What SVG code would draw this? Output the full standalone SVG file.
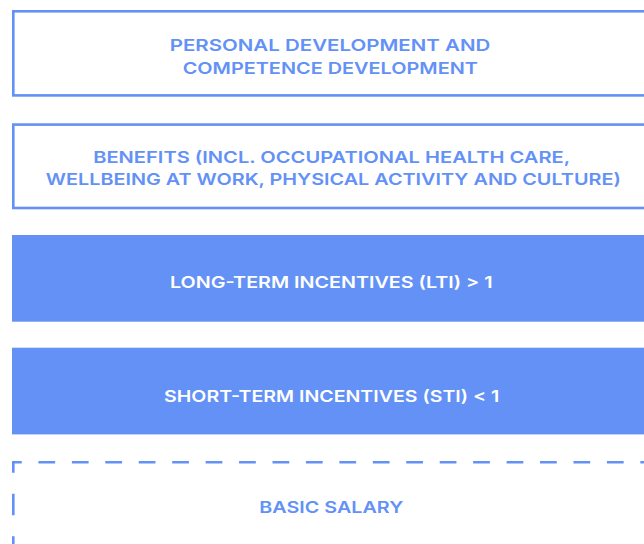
<svg xmlns="http://www.w3.org/2000/svg" width="644" height="544" viewBox="0 0 644 544">
<style>
.box{fill:#ffffff;stroke:#6391F6;stroke-width:2.6}
.fill{fill:#6391F6;stroke:none}
.dash{stroke:#6391F6;stroke-width:2.6;fill:none}
text{font-family:Inter,"Open Sans","Liberation Sans",sans-serif;font-weight:600;font-size:16.2px;text-anchor:middle}
.t{fill:#6391F6}
.w{fill:#ffffff}
</style>
<rect width="644" height="544" fill="#ffffff"/>
<g id="personal-development">
<rect class="box" x="13.3" y="11.3" width="700" height="84.1"/>
<text class="t" x="330" y="51" textLength="320.5" lengthAdjust="spacingAndGlyphs">PERSONAL DEVELOPMENT AND</text>
<text class="t" x="330.3" y="74" textLength="295.3" lengthAdjust="spacingAndGlyphs">COMPETENCE DEVELOPMENT</text>
</g>
<g id="benefits">
<rect class="box" x="13.3" y="124.6" width="700" height="83.4"/>
<text class="t" x="331.7" y="163.4" textLength="477" lengthAdjust="spacingAndGlyphs">BENEFITS (INCL. OCCUPATIONAL HEALTH CARE,</text>
<text class="t" x="333.3" y="185" textLength="575" lengthAdjust="spacingAndGlyphs">WELLBEING AT WORK, PHYSICAL ACTIVITY AND CULTURE)</text>
</g>
<g id="lti">
<rect class="fill" x="12" y="235" width="700" height="86.7"/>
<text class="w" x="331.3" y="288.3" textLength="322.7" lengthAdjust="spacingAndGlyphs">LONG-TERM INCENTIVES (LTI) &gt; 1</text>
</g>
<g id="sti">
<rect class="fill" x="12" y="347.7" width="700" height="86.7"/>
<text class="w" x="331.7" y="401.7" textLength="335.3" lengthAdjust="spacingAndGlyphs">SHORT-TERM INCENTIVES (STI) &lt; 1</text>
</g>
<g id="basic-salary">
<line class="dash" x1="12" y1="462.3" x2="660" y2="462.3" stroke-dasharray="16.72 16.72" stroke-dashoffset="7"/>
<line class="dash" x1="13.3" y1="461" x2="13.3" y2="560" stroke-dasharray="21.5 21" stroke-dashoffset="9.8"/>
<text class="t" x="331.3" y="513.3" textLength="144" lengthAdjust="spacingAndGlyphs">BASIC SALARY</text>
</g>
<g id="connectors"/>
</svg>
